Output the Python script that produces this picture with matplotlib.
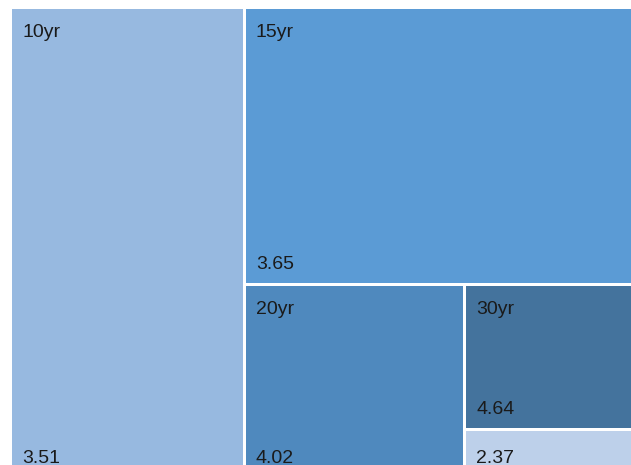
import matplotlib
matplotlib.use("Agg")
import matplotlib.pyplot as plt
from matplotlib.patches import Rectangle

plt.rcParams["font.family"] = ["Liberation Sans", "DejaVu Sans"]

names = ["10yr", "15yr", "20yr", "30yr", ""]
values = [3.51, 3.65, 4.02, 4.64, 2.37]
sizes = [110.2, 114.1, 42.8, 27.8, 9.4]

colors = ["#97b9e0", "#5b9bd5", "#4f89be", "#44739d", "#bdd0ea"]


def slice_layout(sizes, x, y, w, h):
    # alternate vertical / horizontal cuts, each item takes its share of what is left
    rects = []
    left = float(sum(sizes))
    for i, s in enumerate(sizes):
        frac = s / left
        if i % 2 == 0:
            cw = w * frac
            rects.append((x, y, cw, h))
            x, w = x + cw, w - cw
        else:
            ch = h * frac
            rects.append((x, y, w, ch))
            y, h = y + ch, h - ch
        left -= s
    return rects


W, H = 631, 465
fig = plt.figure(figsize=(W / 100, H / 100), dpi=100)
ax = fig.add_axes([0, 0, 1, 1])
ax.set_xlim(0, W)
ax.set_ylim(H, 0)
ax.axis("off")

gap = 3.0
for (x, y, w, h), name, val, c in zip(slice_layout(sizes, 10.5, 7.5, 646, 471),
                                      names, values, colors):
    ax.add_patch(Rectangle((x + gap / 2, y + gap / 2), w - gap, h - gap,
                           facecolor=c, edgecolor="none"))
    top, bottom = y + gap / 2, y + h - gap / 2
    if name and h > 80:
        ax.text(x + gap / 2 + 10, top + 28, name, fontsize=14, color="#1a1a1a",
                va="baseline", ha="left")
    ax.text(x + gap / 2 + 10, bottom - 14, f"{val:.2f}", fontsize=14,
            color="#1a1a1a", va="baseline", ha="left")

fig.savefig("out.png", dpi=100)
